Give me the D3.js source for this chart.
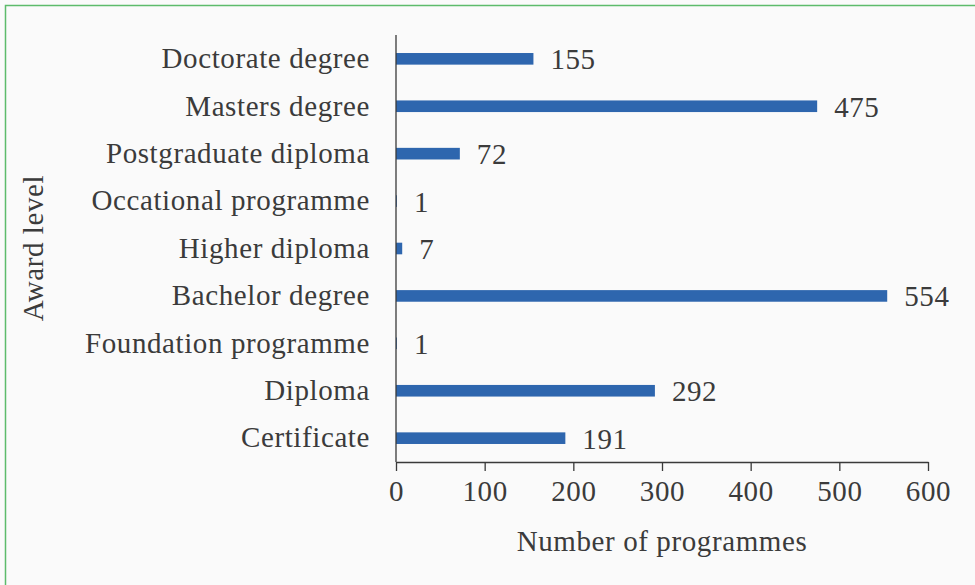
<!DOCTYPE html>
<html>
<head>
<meta charset="utf-8">
<script src="https://cdn.jsdelivr.net/npm/d3@7"></script>
<style>
  html, body { margin: 0; padding: 0; background: #fafafa; }
  svg { display: block; }
  text { font-family: "Liberation Serif", "DejaVu Serif", serif; fill: #3b3b3b; letter-spacing: 0.6px; }
</style>
</head>
<body>
<svg id="chart" width="975" height="585"></svg>
<script>
// Programmes by award level
const categories = [
  "Doctorate degree",
  "Masters degree",
  "Postgraduate diploma",
  "Occational programme",
  "Higher diploma",
  "Bachelor degree",
  "Foundation programme",
  "Diploma",
  "Certificate"
];
const programmes = [155, 475, 72, 1, 7, 554, 1, 292, 191];
const xTicks = [0, 100, 200, 300, 400, 500, 600];

const svg = d3.select("#chart");
const W = 975, H = 585;
const margin = { top: 35, right: 47, bottom: 123, left: 396 };
const fs = 29;

// outer frame (top and left edges visible)
svg.append("rect").attr("x", 0).attr("y", 0).attr("width", W).attr("height", H).attr("fill", "#fafafa");
svg.append("path")
  .attr("d", `M5.5,${H}V5.5H${W}`)
  .attr("fill", "none").attr("stroke", "#5dbb6b").attr("stroke-width", 1.5);

const x = d3.scaleLinear().domain([0, 600]).range([margin.left, W - margin.right]);
const y = d3.scaleBand().domain(categories).range([margin.top, H - margin.bottom]).paddingInner(0.755).paddingOuter(0.38);

const data = categories.map((c, i) => ({ c, v: programmes[i] }));

// bars
svg.append("g").selectAll("rect").data(data).join("rect")
  .attr("x", x(0))
  .attr("y", d => y(d.c))
  .attr("width", d => x(d.v) - x(0))
  .attr("height", y.bandwidth())
  .attr("fill", "#2e66ae");

// value labels
svg.append("g").selectAll("text").data(data).join("text")
  .attr("x", d => x(d.v) + 17)
  .attr("y", d => y(d.c) + y.bandwidth() / 2)
  .attr("dy", "0.36em")
  .attr("font-size", fs)
  .text(d => d.v);

// x axis
const xAxis = svg.append("g")
  .attr("transform", `translate(0,${H - margin.bottom})`)
  .call(d3.axisBottom(x).tickValues(xTicks).tickSize(9).tickSizeOuter(0).tickPadding(9));
xAxis.select(".domain").attr("stroke", "#3a3a3a").attr("stroke-width", 1.3);
xAxis.selectAll(".tick line").attr("stroke", "#3a3a3a").attr("stroke-width", 1.3);
xAxis.selectAll("text").attr("font-size", fs).attr("font-family", null).attr("fill", null);

// y axis
const yAxis = svg.append("g")
  .attr("transform", `translate(${margin.left},0)`)
  .call(d3.axisLeft(y).tickSize(0).tickPadding(26));
d3.select(yAxis.node()).select(".domain").remove();
svg.append("line")
  .attr("x1", margin.left).attr("x2", margin.left)
  .attr("y1", margin.top).attr("y2", H - margin.bottom)
  .attr("stroke", "#3a3a3a").attr("stroke-width", 1.3);
yAxis.selectAll("text").attr("font-size", fs).attr("font-family", null).attr("fill", null);

// axis titles
svg.append("text")
  .attr("x", (x(0) + x(600)) / 2)
  .attr("y", 541)
  .attr("dy", "0.36em")
  .attr("text-anchor", "middle")
  .attr("font-size", fs)
  .text("Number of programmes");

svg.append("text")
  .attr("transform", `translate(33,248) rotate(-90)`)
  .attr("dy", "0.36em")
  .attr("text-anchor", "middle")
  .attr("font-size", fs)
  .text("Award level");
</script>
</body>
</html>
